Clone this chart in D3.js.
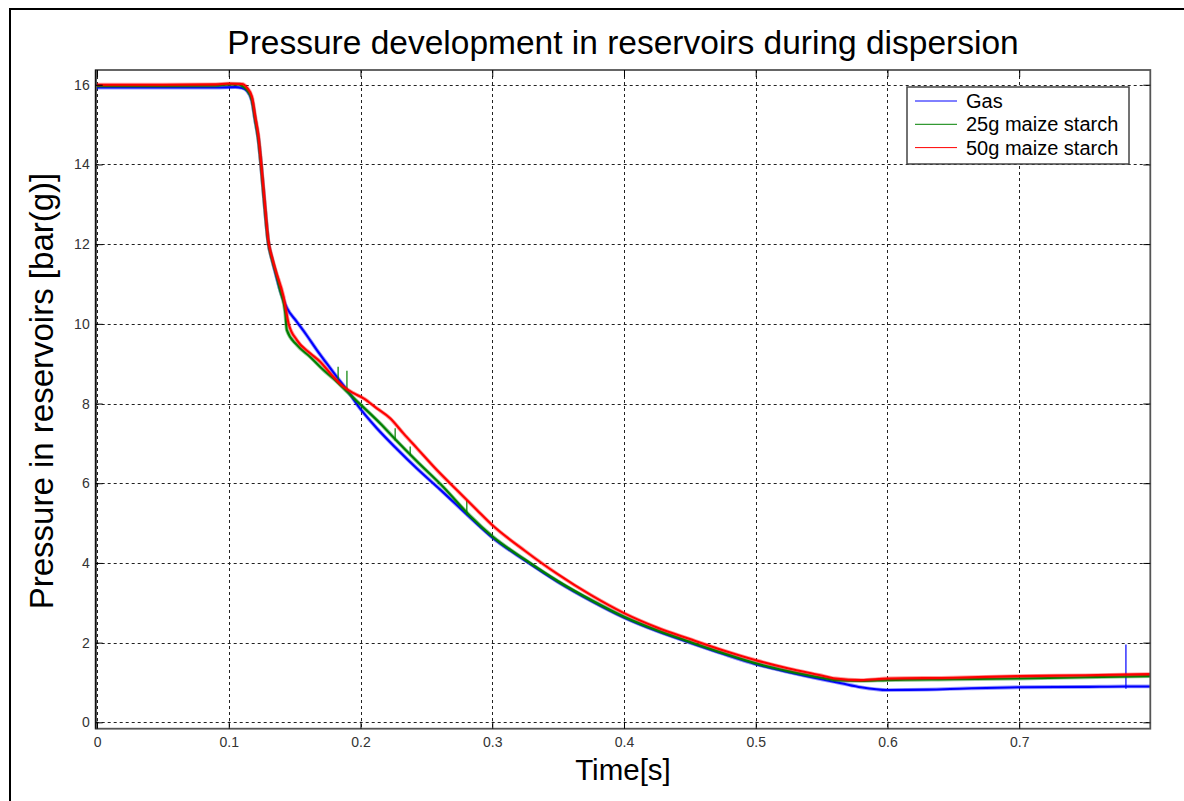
<!DOCTYPE html>
<html>
<head>
<meta charset="utf-8">
<script src="https://cdn.jsdelivr.net/npm/d3@7"></script>
<style>
  body { margin: 0; background: #fff; }
  svg { display: block; }
  text { font-family: "Liberation Sans", Arial, sans-serif; }
</style>
</head>
<body>
<svg id="chart" width="1184" height="801"></svg>
<script>
// Reservoir pressure [bar(g)] against time [s]
const gasTime = [0, 0.05, 0.09, 0.105, 0.110, 0.1138, 0.1176, 0.1201, 0.1226, 0.1244, 0.1269, 0.1300, 0.1330, 0.1353, 0.139, 0.1415, 0.1441, 0.1517, 0.159, 0.1669, 0.1745, 0.182, 0.1897, 0.2005, 0.2124, 0.2276, 0.2428, 0.2605, 0.2832, 0.30, 0.325, 0.35, 0.375, 0.40, 0.425, 0.45, 0.475, 0.50, 0.525, 0.55, 0.565, 0.58, 0.60, 0.63, 0.66, 0.70, 0.75, 0.78, 0.8];
const gasPressure = [15.93, 15.93, 15.93, 15.94, 15.92, 15.85, 15.6, 15.1, 14.6, 14.03, 13.1, 12.05, 11.6, 11.3, 10.85, 10.6, 10.4, 10.05, 9.72, 9.34, 9.0, 8.67, 8.34, 7.84, 7.38, 6.86, 6.37, 5.84, 5.14, 4.64, 4.06, 3.52, 3.05, 2.63, 2.29, 2.0, 1.72, 1.46, 1.26, 1.08, 0.98, 0.88, 0.81, 0.82, 0.85, 0.88, 0.89, 0.90, 0.90];

const starch25Time = [0, 0.05, 0.09, 0.1, 0.108, 0.110, 0.1138, 0.1176, 0.1201, 0.1226, 0.1244, 0.1269, 0.130, 0.133, 0.1353, 0.139, 0.1429, 0.1441, 0.1517, 0.1618, 0.1719, 0.182, 0.1897, 0.2005, 0.215, 0.2276, 0.2428, 0.263, 0.2832, 0.30, 0.325, 0.35, 0.375, 0.40, 0.425, 0.45, 0.475, 0.50, 0.525, 0.55, 0.5606, 0.58, 0.60, 0.65, 0.70, 0.75, 0.8];
const starch25Pressure = [15.97, 15.97, 15.98, 16.01, 16.01, 15.97, 15.87, 15.62, 15.12, 14.61, 14.03, 13.1, 12.05, 11.6, 11.33, 10.85, 10.26, 9.84, 9.47, 9.17, 8.84, 8.55, 8.3, 7.96, 7.5, 7.06, 6.55, 5.9, 5.18, 4.67, 4.08, 3.54, 3.07, 2.65, 2.31, 2.02, 1.74, 1.48, 1.28, 1.12, 1.06, 1.04, 1.06, 1.08, 1.10, 1.13, 1.16];

const starch50Time = [0, 0.05, 0.09, 0.1, 0.11, 0.1138, 0.1176, 0.1201, 0.1226, 0.1244, 0.1269, 0.130, 0.133, 0.1355, 0.1416, 0.1454, 0.1517, 0.1618, 0.1694, 0.177, 0.1871, 0.1947, 0.2023, 0.2124, 0.2225, 0.2326, 0.2428, 0.258, 0.2731, 0.2883, 0.30, 0.325, 0.35, 0.375, 0.40, 0.425, 0.45, 0.475, 0.50, 0.525, 0.548, 0.5606, 0.58, 0.60, 0.65, 0.70, 0.75, 0.8];
const starch50Pressure = [16.0, 16.0, 16.01, 16.03, 16.02, 15.93, 15.7, 15.2, 14.7, 14.1, 13.2, 12.1, 11.65, 11.35, 10.68, 10.01, 9.59, 9.26, 9.05, 8.76, 8.42, 8.26, 8.13, 7.88, 7.63, 7.25, 6.88, 6.33, 5.83, 5.33, 4.95, 4.30, 3.71, 3.19, 2.74, 2.38, 2.09, 1.81, 1.56, 1.35, 1.19, 1.10, 1.06, 1.10, 1.12, 1.16, 1.18, 1.21];

// Short transient spikes in the recordings: time, base, peak
const starch25SpikeTime = [0.183, 0.1897, 0.2263, 0.2377, 0.2807];
const starch25SpikeBase = [8.55, 8.3, 7.07, 6.7, 5.2];
const starch25SpikePeak = [8.92, 8.82, 7.38, 6.92, 5.58];
const gasSpikeTime = [0.781];
const gasSpikeBase = [0.84];
const gasSpikePeak = [1.95];

const seriesNames = ["Gas", "25g maize starch", "50g maize starch"];
const seriesColors = ["#0000ff", "#008000", "#ff0000"];
const xTicks = [0, 0.1, 0.2, 0.3, 0.4, 0.5, 0.6, 0.7];
const yTicks = [0, 2, 4, 6, 8, 10, 12, 14, 16];

const titleText = "Pressure development in reservoirs during dispersion";
const xLabel = "Time[s]";
const yLabel = "Pressure in reservoirs [bar(g)]";

const svg = d3.select("#chart");
const W = 1184, H = 801;
const plot = { left: 95.7, right: 1150.3, top: 70, bottom: 728.7 };

svg.append("rect").attr("width", W).attr("height", H).attr("fill", "#fff");

// Figure frame (left and top edges)
svg.append("line").attr("x1", 10).attr("x2", 10).attr("y1", 9).attr("y2", H)
  .attr("stroke", "#000").attr("stroke-width", 2);
svg.append("line").attr("x1", 9).attr("x2", W).attr("y1", 9).attr("y2", 9)
  .attr("stroke", "#000").attr("stroke-width", 2);

const x = d3.scaleLinear().domain([-0.001, 0.7995]).range([plot.left, plot.right]);
const y = d3.scaleLinear().domain([-0.16, 16.37]).range([plot.bottom, plot.top]);

svg.append("defs").append("clipPath").attr("id", "plotClip")
  .append("rect").attr("x", plot.left).attr("y", plot.top)
  .attr("width", plot.right - plot.left).attr("height", plot.bottom - plot.top);

// Grid
const grid = svg.append("g").attr("stroke", "#222").attr("stroke-width", 1)
  .attr("stroke-dasharray", "3,3");
grid.selectAll(".gx").data(xTicks).join("line")
  .attr("x1", d => Math.round(x(d)) + 0.5).attr("x2", d => Math.round(x(d)) + 0.5)
  .attr("y1", plot.top).attr("y2", plot.bottom);
grid.selectAll(".gy").data(yTicks).join("line")
  .attr("y1", d => Math.round(y(d)) + 0.5).attr("y2", d => Math.round(y(d)) + 0.5)
  .attr("x1", plot.left).attr("x2", plot.right);

// Data lines
const line = d3.line().x(d => x(d[0])).y(d => y(d[1])).curve(d3.curveMonotoneX);
const seriesData = [
  d3.zip(gasTime, gasPressure),
  d3.zip(starch25Time, starch25Pressure),
  d3.zip(starch50Time, starch50Pressure)
];
const lines = svg.append("g").attr("clip-path", "url(#plotClip)");

// Spikes
function spikes(times, base, peak, color) {
  lines.append("g").selectAll("line").data(times).join("line")
    .attr("x1", d => x(d)).attr("x2", d => x(d))
    .attr("y1", (d, i) => y(base[i])).attr("y2", (d, i) => y(peak[i]))
    .attr("stroke", color).attr("stroke-width", 1.2);
}

seriesData.forEach((s, i) => {
  lines.append("path").datum(s).attr("d", line).attr("fill", "none")
    .attr("stroke", seriesColors[i]).attr("stroke-opacity", 0.4)
    .attr("stroke-width", 3.8).attr("stroke-linejoin", "round");
  lines.append("path").datum(s).attr("d", line).attr("fill", "none")
    .attr("stroke", seriesColors[i]).attr("stroke-width", 2.1)
    .attr("stroke-linejoin", "round");
  if (i === 0) spikes(gasSpikeTime, gasSpikeBase, gasSpikePeak, seriesColors[0]);
  if (i === 1) spikes(starch25SpikeTime, starch25SpikeBase, starch25SpikePeak, seriesColors[1]);
});

// Axes box
svg.append("rect").attr("x", plot.left).attr("y", plot.top)
  .attr("width", plot.right - plot.left).attr("height", plot.bottom - plot.top)
  .attr("fill", "none").attr("stroke", "#555").attr("stroke-width", 1.8);
svg.append("line").attr("x1", plot.left).attr("x2", plot.left)
  .attr("y1", plot.top).attr("y2", plot.bottom).attr("stroke", "#111").attr("stroke-width", 1.6);

// Inward ticks via d3 axes
const tickLen = 7;
const axBottom = d3.axisBottom(x).tickValues(xTicks).tickSize(-tickLen).tickFormat(d3.format("~g"));
const axTop = d3.axisTop(x).tickValues(xTicks).tickSize(-tickLen).tickFormat("");
const axLeft = d3.axisLeft(y).tickValues(yTicks).tickSize(-tickLen).tickFormat(d3.format("d"));
const axRight = d3.axisRight(y).tickValues(yTicks).tickSize(-tickLen).tickFormat("");

function styleAxis(g) {
  g.attr("font-size", 14).attr("font-family", "\"Liberation Sans\", Arial, sans-serif");
  g.select(".domain").remove();
  g.selectAll(".tick line").attr("stroke", "#000").attr("stroke-width", 1);
  g.selectAll(".tick text").attr("fill", "#333");
}
svg.append("g").attr("transform", `translate(0,${plot.bottom})`).call(axBottom).call(styleAxis)
  .selectAll(".tick text").attr("dy", null).attr("y", 18);
svg.append("g").attr("transform", `translate(0,${plot.top})`).call(axTop).call(styleAxis);
svg.append("g").attr("transform", `translate(${plot.left},0)`).call(axLeft).call(styleAxis)
  .selectAll(".tick text").attr("x", -6);
svg.append("g").attr("transform", `translate(${plot.right},0)`).call(axRight).call(styleAxis);

// Titles
svg.append("text").attr("x", (plot.left + plot.right) / 2).attr("y", 54)
  .attr("text-anchor", "middle").attr("font-size", 33.5).attr("fill", "#000").text(titleText);
svg.append("text").attr("x", (plot.left + plot.right) / 2).attr("y", 780)
  .attr("text-anchor", "middle").attr("font-size", 29.5).attr("fill", "#000").text(xLabel);
svg.append("text").attr("transform", "translate(53,391) rotate(-90)")
  .attr("text-anchor", "middle").attr("font-size", 33).attr("fill", "#000").text(yLabel);

// Legend
const lg = svg.append("g");
lg.append("rect").attr("x", 907).attr("y", 87).attr("width", 222).attr("height", 77)
  .attr("fill", "#fff").attr("stroke", "#444").attr("stroke-width", 1.5);
seriesNames.forEach((name, i) => {
  const cy = 101 + i * 23.3;
  lg.append("line").attr("x1", 915).attr("x2", 957).attr("y1", cy).attr("y2", cy)
    .attr("stroke", seriesColors[i]).attr("stroke-width", 1);
  lg.append("text").attr("x", 966).attr("y", cy + 7).attr("font-size", 20)
    .attr("fill", "#000").text(name);
});
</script>
</body>
</html>
